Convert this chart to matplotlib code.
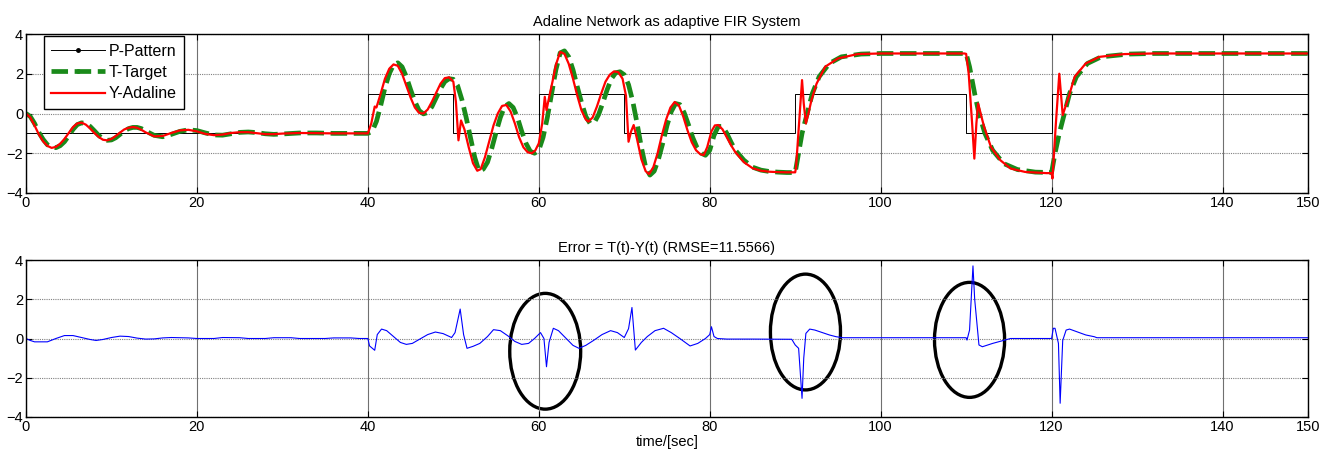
import numpy as np
import matplotlib
matplotlib.use('Agg')
import matplotlib.pyplot as plt
from matplotlib.patches import Ellipse
from matplotlib.lines import Line2D

plt.rcParams['font.family'] = ['Liberation Sans', 'DejaVu Sans']

# P - pattern (step input)
pattern_t = [0, 40, 50, 60, 70, 90, 110, 120, 150]
pattern_v = [-1, 1, -1, 1, -1, 1, -1, 1, 1]

# T - target
target_t1 = [0, 0.5, 1, 1.5, 2, 2.5, 3, 3.5, 4, 4.5, 5, 5.5, 6, 6.5, 7, 7.5, 8, 8.5, 9, 9.5,
             10, 10.5, 11, 11.5, 12, 12.5, 13, 13.5, 14, 15, 16, 17, 18, 19, 20, 21, 22, 23,
             24, 25, 26, 27, 28, 29, 30, 32, 34, 36, 38, 40]
target_v1 = [0, -0.15, -0.5, -0.95, -1.3, -1.57, -1.7, -1.72, -1.62, -1.42, -1.12, -0.8, -0.56,
             -0.47, -0.5, -0.65, -0.87, -1.1, -1.27, -1.35, -1.33, -1.22, -1.05, -0.88, -0.76,
             -0.7, -0.7, -0.76, -0.88, -1.1, -1.17, -1.05, -0.9, -0.82, -0.86, -0.98, -1.08,
             -1.09, -1.02, -0.95, -0.93, -0.96, -1.02, -1.05, -1.03, -0.98, -0.98, -1.0, -1.0, -1.0]
target_t2 = list(np.arange(40.5, 83.01, 0.5)) + [84, 85, 86, 87, 88, 89, 90]
target_v2 = [-0.9, -0.4, 0.4, 1.3, 2.0, 2.45, 2.55, 2.35, 1.85, 1.2,
             0.6, 0.15, -0.02, 0.05, 0.35, 0.8, 1.25, 1.6, 1.75, 1.72,
             1.4, 0.7, -0.2, -1.2, -2.2, -2.9, -2.8, -2.45, -1.75, -0.95,
             -0.2, 0.35, 0.5, 0.3, -0.2, -0.9, -1.5, -1.9, -2.0, -1.85,
             -1.2, -0.2, 1.0, 2.2, 3.05, 3.15, 2.85, 2.2, 1.35, 0.55,
             -0.15, -0.5, -0.45, -0.05, 0.55, 1.2, 1.75, 2.05, 2.1, 1.95,
             1.45, 0.6, -0.5, -1.7, -2.7, -3.1, -2.9, -2.3, -1.5, -0.6,
             0.1, 0.5, 0.45, 0.05, -0.55, -1.2, -1.7, -2.0, -2.1, -1.85,
             -1.1, -0.65, -0.65, -1.0, -1.45, -1.85,
             -2.35, -2.7, -2.85, -2.92, -2.95, -2.97, -2.97]
target_t3 = [90.4, 90.8, 91.4, 92.0, 92.8, 94.0, 95.4, 97.7, 100, 105, 110, 110.4, 111.0,
             111.5, 112.2, 113.1, 114.4, 116.0, 118.1, 120.0, 120.4, 120.9, 121.5, 122.1,
             122.9, 124.2, 125.8, 129, 132, 150]
target_v3 = [-2.0, -1.0, 0.0, 1.0, 1.85, 2.52, 2.85, 2.99, 3.02, 3.02, 3.02, 2.35, 1.0,
             0.0, -1.0, -1.85, -2.52, -2.82, -2.95, -2.97, -2.0, -1.0, 0.0, 1.0,
             1.85, 2.52, 2.85, 2.99, 3.02, 3.02]

# Y - adaline output
adaline_t1 = target_t1
adaline_v1 = [0, -0.2, -0.6, -1.05, -1.4, -1.63, -1.73, -1.68, -1.52, -1.28, -0.98, -0.68, -0.5,
              -0.46, -0.56, -0.75, -0.98, -1.18, -1.32, -1.35, -1.28, -1.13, -0.96, -0.8, -0.72,
              -0.68, -0.72, -0.82, -0.95, -1.15, -1.13, -0.98, -0.85, -0.82, -0.9, -1.03, -1.09,
              -1.06, -0.98, -0.94, -0.94, -0.99, -1.04, -1.04, -1.01, -0.98, -0.99, -1.0, -1.0, -1.0]
adaline_t2 = [40.4, 40.8, 41.0, 41.5, 42, 42.5, 43, 43.5, 44, 44.5, 45, 45.5, 46, 46.5, 47,
              47.5, 48, 48.5, 49, 49.5, 50, 50.3, 50.6, 50.9, 51.3, 51.8, 52.3, 52.8, 53.2,
              53.7, 54.2, 54.7, 55.2, 55.7, 56.2, 56.7, 57.2, 57.7, 58.2, 58.7, 59.2, 59.6,
              60, 60.4, 60.7, 60.9, 61.2, 61.6, 62, 62.5, 63, 63.5, 64, 64.5, 65, 65.5, 65.8,
              66.3, 66.8, 67.3, 67.8, 68.3, 68.8, 69.3, 69.8, 70.2, 70.5, 70.8, 71.1, 71.5,
              72, 72.5, 72.9, 73.4, 73.9, 74.4, 74.9, 75.4, 75.9, 76.4, 76.9, 77.4, 77.9,
              78.4, 78.9, 79.3, 79.7, 80.2, 80.6, 81.0, 81.5, 82, 82.5, 83, 84, 85, 86, 87,
              88, 89, 90]
adaline_v2 = [-0.5, 0.35, 0.3, 1.0, 1.75, 2.25, 2.47, 2.4, 2.0, 1.4, 0.8, 0.3, 0.03, 0.0, 0.2,
              0.6, 1.05, 1.5, 1.78, 1.82, 1.6, 0.6, -1.35, -0.35, -0.8, -1.7, -2.5, -2.88, -2.8,
              -2.2, -1.4, -0.6, 0.0, 0.38, 0.43, 0.1, -0.5, -1.2, -1.7, -1.95, -2.0, -1.85,
              -1.5, -0.5, 0.84, 0.17, 0.8, 1.6, 2.45, 3.1, 3.0, 2.5, 1.75, 0.9, 0.15, -0.3, -0.41,
              -0.2, 0.35, 1.0, 1.6, 1.95, 2.12, 2.08, 1.75, 0.9, -1.42, -0.9, -0.58, -1.3,
              -2.3, -2.9, -3.05, -2.7, -2.0, -1.1, -0.3, 0.3, 0.58, 0.4, -0.15, -0.85, -1.45,
              -1.85, -2.05, -2.09, -1.7, -0.9, -0.6, -0.58, -0.8, -1.2, -1.6, -1.95, -2.45, -2.75,
              -2.88, -2.93, -2.95, -2.96, -2.96]
adaline_t3 = [90.1, 90.5, 90.8, 91.0, 91.25, 91.6, 91.9, 92.5, 93.5, 95.0, 97.3, 100, 109.8,
              110.0, 110.3, 110.7, 110.96, 111.2, 111.4, 111.7, 112.1, 112.9, 114.0, 115.2,
              116.9, 119.4, 120.0, 120.1, 120.5, 120.9, 121.3, 122.0, 122.7, 124.0, 125.6,
              128.5, 131.9, 150]
adaline_v3 = [-2.7, -0.2, 1.68, 0.5, -0.5, 0.1, 0.67, 1.5, 2.35, 2.77, 2.99, 3.02, 3.02,
              3.0, 2.0, -0.5, -2.27, -0.5, 0.5, 0.0, -0.67, -1.68, -2.35, -2.77,
              -2.94, -3.0, -3.0, -3.27, -0.5, 2.0, -0.08, 0.84, 1.85, 2.52, 2.85,
              2.99, 3.02, 3.02]

# Error = T - Y
error_t = [0, 0.5, 1, 2.5, 3.5, 4.5, 5.5, 6.5, 7.5, 8.2, 9, 10, 11, 12, 13, 14, 15, 16, 17, 19,
           20, 22, 23, 25, 26, 28, 29, 31, 32, 35, 36, 38, 39, 40, 40.2, 40.8, 41.1, 41.6, 42.2,
           43, 43.8, 44.5, 45.2, 46, 47, 47.9, 48.8, 49.8, 50.2, 50.8, 51.2, 51.6, 52.3, 53.1,
           54, 54.7, 55.5, 56.4, 57.2, 58, 58.8, 59.5, 60.2, 60.6, 60.9, 61.2, 61.7, 62.3,
           63.2, 64, 64.7, 65.5, 66.4, 67.4, 68.4, 69.2, 70, 70.5, 70.9, 71.3, 72.0, 72.7,
           73.6, 74.6, 75.5, 76.5, 77.7, 78.6, 79.5, 80.0, 80.2, 80.5, 80.9, 82, 85, 89.6,
           90.0, 90.4, 90.8, 91.0, 91.25, 91.7, 92.3, 94.0, 94.8, 95.6, 110.0, 110.1, 110.4,
           110.8, 111.0, 111.5, 111.9, 113.1, 114.8, 115.2, 120.0, 120.2, 120.4, 120.8, 121.0,
           121.3, 121.7, 122.1, 124.0, 125.0, 125.3, 150]
error_v = [0, -0.1, -0.17, -0.17, 0.0, 0.15, 0.15, 0.05, -0.05, -0.1, -0.05, 0.05, 0.12, 0.1,
           0.02, -0.03, -0.02, 0.03, 0.05, 0.03, 0.0, 0.0, 0.05, 0.04, 0.0, 0.0, 0.04, 0.04, 0.0,
           0.0, 0.03, 0.03, 0.0, 0.0, -0.38, -0.6, 0.2, 0.48, 0.4, 0.1, -0.2, -0.3, -0.25, -0.05,
           0.2, 0.33, 0.25, 0.05, 0.3, 1.5, 0.2, -0.5, -0.4, -0.25, 0.1, 0.45, 0.4, 0.13, -0.15,
           -0.3, -0.25, 0.0, 0.3, 0.0, -1.44, -0.2, 0.52, 0.4, 0.0, -0.35, -0.5, -0.35, -0.1,
           0.2, 0.4, 0.3, 0.05, 0.5, 1.58, -0.59, -0.2, 0.1, 0.4, 0.52, 0.3, 0.0, -0.38, -0.25,
           0.0, 0.2, 0.6, 0.1, 0.0, -0.03, -0.03, -0.04, -0.33, -0.5, -3.05, -1.0, 0.26, 0.48,
           0.43, 0.18, 0.09, 0.04, 0.04, -0.08, 0.43, 3.7, 2.0, -0.33, -0.42, -0.25, -0.05, 0.0,
           0.0, 0.52, 0.52, -0.25, -3.3, -0.1, 0.43, 0.48, 0.18, 0.09, 0.04, 0.04]

# circled spots on the error plot: (centre t, centre e, width, height)
circles = [(60.75, -0.65, 8.3, 5.9), (91.2, 0.33, 8.2, 5.9), (110.4, -0.07, 8.2, 5.86)]

target_t = np.concatenate([target_t1, target_t2, target_t3])
target_v = np.concatenate([target_v1, target_v2, target_v3])
adaline_t = np.concatenate([adaline_t1, adaline_t2, adaline_t3])
adaline_v = np.concatenate([adaline_v1, adaline_v2, adaline_v3])

fig = plt.figure(figsize=(13.38, 4.62), dpi=100)
ax1 = fig.add_axes([26/1338, 1-193/462, 1282/1338, 159/462])
ax2 = fig.add_axes([26/1338, 1-417/462, 1282/1338, 157/462])

ax1.step(pattern_t, pattern_v, where='post', color='black', lw=0.7)
ax1.plot(target_t, target_v, color='#1a8a1a', lw=3.4, dashes=(3.5, 1.4))
ax1.plot(adaline_t, adaline_v, color='red', lw=1.6)

ax2.plot(error_t, error_v, color='blue', lw=0.8)
for cx, cy, w, h in circles:
    ax2.add_patch(Ellipse((cx, cy), w, h, fill=False, edgecolor='black', lw=2.4))

for ax in (ax1, ax2):
    ax.set_xlim(0, 150)
    ax.set_ylim(-4, 4)
    ax.set_xticks([0, 20, 40, 60, 80, 100, 120, 140, 150])
    ax.set_yticks([-4, -2, 0, 2, 4])
    ax.tick_params(direction='in', top=True, right=True, length=4, width=0.8,
                   labelsize=10.5, pad=2, colors='black')
    ax.grid(True, axis='x', color='#707070', lw=0.8, ls='-')
    ax.grid(True, axis='y', color='#808080', lw=0.8, ls=(0, (1, 1)))
    for s in ax.spines.values():
        s.set_linewidth(1.0)

ax1.set_title('Adaline Network as adaptive FIR System', fontsize=10.5, pad=6)
ax2.set_title('Error = T(t)-Y(t) (RMSE=11.5566)', fontsize=10.5, pad=6)
ax2.set_xlabel('time/[sec]', fontsize=10.5, labelpad=1)

handles = [Line2D([], [], color='black', lw=0.7, marker='.', markersize=5),
           Line2D([], [], color='#1a8a1a', lw=3.4, dashes=(3.5, 1.4), marker='.', markersize=5),
           Line2D([], [], color='red', lw=1.6)]
leg = ax1.legend(handles, ['P-Pattern', 'T-Target', 'Y-Adaline'], loc='upper left',
                 bbox_to_anchor=(0.014, 0.985), borderaxespad=0, fontsize=11.5,
                 handlelength=3.4, labelspacing=0.4, fancybox=False, framealpha=1,
                 edgecolor='black', borderpad=0.45, handletextpad=0.2)
leg.get_frame().set_linewidth(1.0)

# cut-off caption from the page above the figure
fig.text(138/1338, 1 + 3.5/462, 'g', fontsize=13, style='italic', family='Liberation Serif', va='baseline')
fig.text(330/1338, 1 + 3.5/462, 'p', fontsize=13, style='italic', family='Liberation Serif', va='baseline')

fig.savefig('out.png', dpi=100)
